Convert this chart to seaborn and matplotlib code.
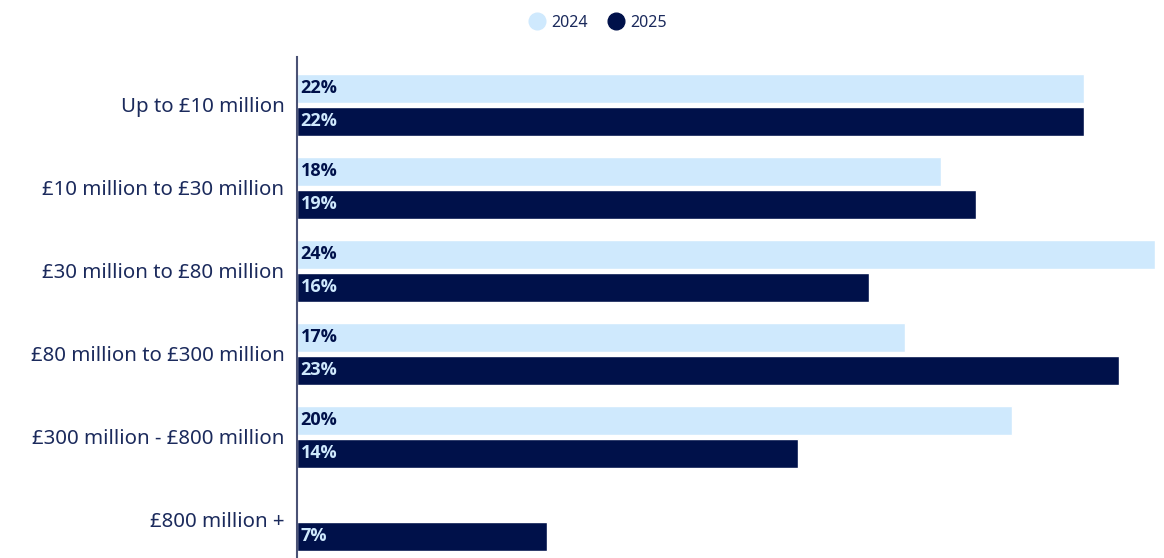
import numpy as np
import pandas as pd
import matplotlib
matplotlib.use("Agg")
import matplotlib.pyplot as plt
from matplotlib import font_manager as fm
from matplotlib.lines import Line2D
import seaborn as sns

categories = [
    "Up to £10 million",
    "£10 million to £30 million",
    "£30 million to £80 million",
    "£80 million to £300 million",
    "£300 million - £800 million",
    "£800 million +",
]
values_2024 = [22, 18, 24, 17, 20, np.nan]
values_2025 = [22, 19, 16, 23, 14, 7]
years = ["2024", "2025"]

light_blue = "#cfe9fd"
navy = "#00114a"
text_navy = "#1b2a5c"

sns.set_theme(style="white")
plt.rcParams["font.family"] = ["Noto Sans", "DejaVu Sans"]


def bold_font(size):
    """Static bold face of a humanist sans at normal width."""
    for family in ["Open Sans", "Lato", "Inter", "Roboto", "Liberation Sans"]:
        for entry in fm.fontManager.ttflist:
            fname = entry.fname.split("/")[-1].lower()
            if (entry.name == family and entry.weight in (700, "bold")
                    and entry.style == "normal" and entry.stretch == "normal"
                    and "[" not in fname and "condensed" not in fname
                    and "semicond" not in fname):
                return fm.FontProperties(fname=entry.fname, size=size)
    return fm.FontProperties(family="DejaVu Sans", weight="bold", size=size)


value_font = bold_font(13)

df = pd.DataFrame({
    "band": categories * 2,
    "year": [years[0]] * len(categories) + [years[1]] * len(categories),
    "share": values_2024 + values_2025,
})

fig = plt.figure(figsize=(11.64, 5.58), dpi=100)
ax = fig.add_axes([297 / 1164, 0, (1155 - 297) / 1164, 501 / 558])

sns.barplot(
    data=df, y="band", x="share", hue="year", order=categories,
    hue_order=years, palette={"2024": light_blue, "2025": navy},
    orient="h", width=0.795, gap=0.14, saturation=1, legend=False, ax=ax,
)

ax.set_xlim(0, 24)
ax.set_ylim(5.458, -0.578)
ax.set_xlabel("")
ax.set_ylabel("")
ax.set_xticks([])
ax.tick_params(axis="y", length=0, pad=9, labelsize=14.7, labelcolor=text_navy)
for side in ["top", "right", "bottom"]:
    ax.spines[side].set_visible(False)
ax.spines["left"].set_color("#4a5275")
ax.spines["left"].set_linewidth(1.5)

# value labels at the inner left edge of each bar
label_colors = {"2024": navy, "2025": light_blue}
for container, year in zip(ax.containers, years):
    labels = []
    for v in container.datavalues:
        labels.append("" if np.isnan(v) else f"{v:.0f}%")
    ax.bar_label(container, labels=labels, label_type="edge", padding=0,
                 fontproperties=value_font, color=label_colors[year])
    for t in ax.texts[-len(labels):]:
        x, y = t.xy
        t.xy = (0, y)
        t.set_ha("left")
        t.xyann = (2.5, 0)

handles = [
    Line2D([], [], marker="o", linestyle="", markersize=12,
           markerfacecolor=light_blue, markeredgecolor=light_blue),
    Line2D([], [], marker="o", linestyle="", markersize=12,
           markerfacecolor=navy, markeredgecolor=navy),
]
fig.legend(handles, years, loc="center", bbox_to_anchor=(598 / 1164, 1 - 23 / 558),
           ncol=2, frameon=False, fontsize=11.5, labelcolor=text_navy,
           handletextpad=0.4, columnspacing=1.3, handlelength=1.0)

fig.savefig("out.png", dpi=100)
